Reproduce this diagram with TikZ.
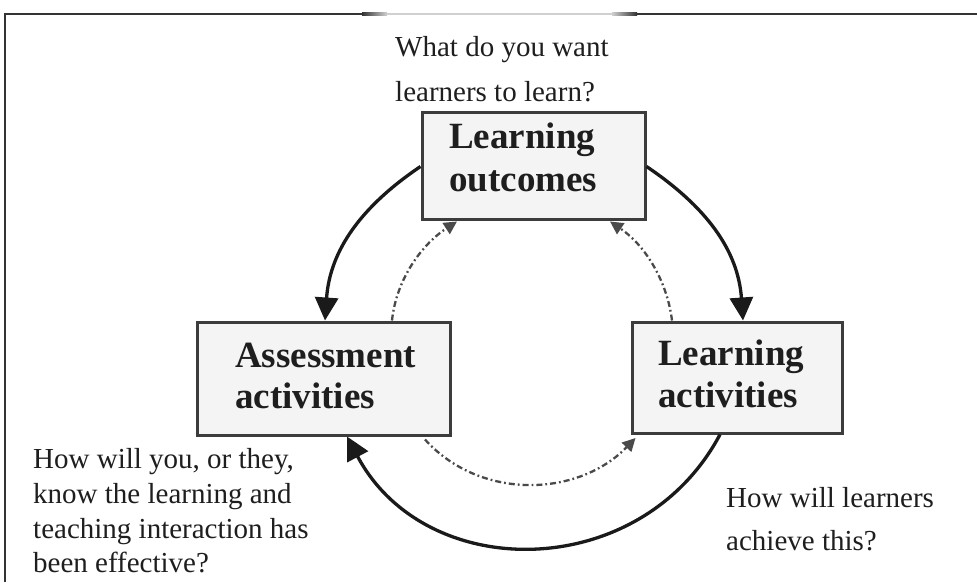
\documentclass[tikz,border=0pt]{standalone}
\usepackage{fontspec}
\setmainfont{Liberation Serif}
\usetikzlibrary{arrows.meta}
\definecolor{framec}{HTML}{333333}
\definecolor{framelight}{HTML}{D0D0D0}
\definecolor{boxc}{HTML}{3C3C3C}
\definecolor{boxfill}{HTML}{F4F4F4}
\definecolor{txt}{HTML}{1E1E1E}
\definecolor{arrc}{HTML}{1A1A1A}
\definecolor{dashc}{HTML}{4A4A4A}
\begin{document}
\begin{tikzpicture}[x=1pt,y=1pt,
  box/.style={draw=boxc, line width=3pt, fill=boxfill, inner sep=0pt},
  boxtxt/.style={anchor=base west, inner sep=0pt, text=txt,
    font=\fontsize{37}{42}\selectfont\bfseries},
  qtxt/.style={anchor=base west, inner sep=0pt, text=txt,
    font=\fontsize{29}{35}\selectfont},
  mainarr/.style={draw=arrc, line width=3.3pt,
    -{Triangle[length=23pt,width=23pt]}},
  dasharr/.style={draw=dashc, line width=2.3pt,
    dash pattern=on 6pt off 3pt on 1.8pt off 3pt,
    -{Triangle[length=13pt,width=13pt]}},
  framestyle/.style={draw=framec, line width=2.5pt}
]
\useasboundingbox (0,0) rectangle (977,582);
\fill[white] (0,0) rectangle (977,582);

% frame
\draw[framestyle] (5,0) -- (5,568) -- (362,568);
\draw[framestyle] (637,568) -- (977,568);
\shade[left color=framec, right color=framelight] (362,566.75) rectangle (387,569.25);
\fill[framelight] (387,566.75) rectangle (612,569.25);
\shade[left color=framelight, right color=framec] (612,566.75) rectangle (637,569.25);

% boxes
\node[box, minimum width=223, minimum height=107] (LO) at (533.5,415.5) {};
\node[box, minimum width=253, minimum height=113] (AA) at (323.5,203.5) {};
\node[box, minimum width=210, minimum height=111] (LA) at (737,204.5) {};

% box texts
\node[boxtxt] (LO1) at (449,433) {Learning};
\node[boxtxt] (LO2) at (449,390) {outcomes};
\node[boxtxt] (AA1) at (235,215) {Assessment};
\node[boxtxt] (AA2) at (235,174) {activities};
\node[boxtxt] (LA1) at (658,217) {Learning};
\node[boxtxt] (LA2) at (658,175) {activities};

% question texts
\node[qtxt] (T1) at (395,525) {What do you want};
\node[qtxt] (T2) at (395,480) {learners to learn?};
\node[qtxt] (B1) at (33,114) {How will you, or they,};
\node[qtxt] (B2) at (33,79) {know the learning and};
\node[qtxt] (B3) at (33,44) {teaching interaction has};
\node[qtxt] (B4) at (33,10) {been effective?};
\node[qtxt] (R1) at (726,75) {How will learners};
\node[qtxt] (R2) at (726,32) {achieve this?};

% solid arrows
\draw[mainarr] (LO.west) to[out=214,in=86] ([xshift=1.5]AA.north);
\draw[mainarr] (LO.east) to[out=-34,in=94] ([xshift=6]LA.north);
\draw[mainarr] ([xshift=-17]LA.south) to[out=-118,in=-62,looseness=1.15] ([xshift=23.5]AA.south);

% dash-dot arrows
\draw[dasharr] ([xshift=68.5]AA.north) to[out=84,in=213,looseness=0.9] ([xshift=-76.5]LO.south);
\draw[dasharr] ([xshift=-65]LA.north) to[out=97,in=-34,looseness=0.9] ([xshift=76.5]LO.south);
\draw[dasharr] ([xshift=101.5,yshift=-3]AA.south) to[out=312,in=226] ([xshift=5,yshift=-3.5]LA.south west);
\end{tikzpicture}
\end{document}
